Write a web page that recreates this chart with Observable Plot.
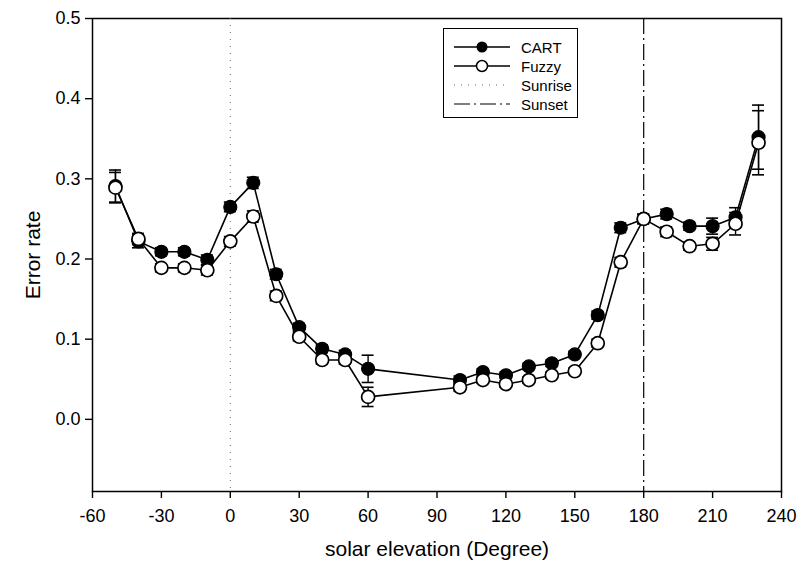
<!DOCTYPE html>
<html>
<head>
<meta charset="utf-8">
<script src="https://cdn.jsdelivr.net/npm/d3@7"></script>
<script src="https://cdn.jsdelivr.net/npm/@observablehq/plot@0.6"></script>
<style>
  html, body { margin: 0; padding: 0; background: #fff; }
  #wrap { position: relative; width: 798px; height: 569px; font-family: "Liberation Sans", Arial, sans-serif; }
  #legend { position: absolute; left: 443px; top: 28px; width: 135px; height: 90px; border: 1.3px solid #000; background: #fff; box-sizing: border-box; }
  #legend .row { position: absolute; left: 10px; height: 20px; display: flex; align-items: center; font-size: 15px; }
  #legend svg { margin-right: 9px; }
</style>
</head>
<body>
<div id="wrap"></div>
<script>
// ---- data ----
const xTicks = [-60, -30, 0, 30, 60, 90, 120, 150, 180, 210, 240];
const yTicks = [0.0, 0.1, 0.2, 0.3, 0.4, 0.5];
const elevation = [-50, -40, -30, -20, -10, 0, 10, 20, 30, 40, 50, 60, 100, 110, 120, 130, 140, 150, 160, 170, 180, 190, 200, 210, 220, 230];
const cart      = [0.291, 0.222, 0.209, 0.209, 0.199, 0.265, 0.295, 0.181, 0.115, 0.088, 0.081, 0.063, 0.049, 0.059, 0.055, 0.066, 0.070, 0.081, 0.130, 0.239, 0.250, 0.256, 0.241, 0.241, 0.252, 0.352];
const cartErr   = [0.020, 0.008, 0.005, 0.005, 0.006, 0.006, 0.007, 0.006, 0.005, 0.005, 0.005, 0.017, 0.005, 0.004, 0.004, 0.004, 0.004, 0.004, 0.005, 0.006, 0.006, 0.006, 0.005, 0.010, 0.012, 0.040];
const fuzzy     = [0.289, 0.225, 0.189, 0.189, 0.186, 0.222, 0.253, 0.154, 0.103, 0.074, 0.074, 0.028, 0.040, 0.049, 0.044, 0.049, 0.055, 0.060, 0.095, 0.196, 0.250, 0.234, 0.216, 0.219, 0.244, 0.345];
const fuzzyErr  = [0.019, 0.007, 0.005, 0.005, 0.006, 0.006, 0.007, 0.006, 0.005, 0.005, 0.005, 0.012, 0.005, 0.004, 0.004, 0.004, 0.004, 0.004, 0.005, 0.006, 0.006, 0.006, 0.005, 0.008, 0.014, 0.040];
const sunrise = [0];
const sunset = [180];
const seriesNames = ["CART", "Fuzzy", "Sunrise", "Sunset"];
const xLabel = "solar elevation (Degree)";
const yLabel = "Error rate";

const capHalf = 2.6; // half-width of error-bar caps in x units

function rows(vals, errs) {
  return elevation.map((x, i) => ({x, y: vals[i], lo: vals[i] - errs[i], hi: vals[i] + errs[i]}));
}
const cartData = rows(cart, cartErr);
const fuzzyData = rows(fuzzy, fuzzyErr);

function errMarks(data) {
  return [
    Plot.ruleX(data, {x: "x", y1: "lo", y2: "hi", stroke: "#000", strokeWidth: 1.4}),
    Plot.ruleY(data, {y: "hi", x1: d => d.x - capHalf, x2: d => d.x + capHalf, stroke: "#000", strokeWidth: 1.6}),
    Plot.ruleY(data, {y: "lo", x1: d => d.x - capHalf, x2: d => d.x + capHalf, stroke: "#000", strokeWidth: 1.6})
  ];
}

const chart = Plot.plot({
  width: 798,
  height: 569,
  marginLeft: 92,
  marginRight: 17,
  marginTop: 18,
  marginBottom: 78,
  style: {fontFamily: "'Liberation Sans', Arial, sans-serif", fontSize: "17px", color: "#000", background: "#fff"},
  x: {domain: [-60, 240]},
  y: {domain: [-0.09, 0.5]},
  marks: [
    Plot.frame({stroke: "#000", strokeWidth: 1.5}),
    Plot.ruleX(sunrise, {x: d => d, stroke: "#666", strokeWidth: 1, strokeDasharray: "1,6"}),
    Plot.ruleX(sunset, {x: d => d, stroke: "#000", strokeWidth: 1.2, strokeDasharray: "16,4,2,4"}),
    Plot.axisX({ticks: xTicks, tickSize: 7, tickPadding: 11, tickFormat: d => String(d), label: null, fontSize: 18, strokeWidth: 1.4}),
    Plot.axisY({ticks: yTicks, tickSize: 7, tickPadding: 5, tickFormat: d3.format(".1f"), label: null, fontSize: 18, strokeWidth: 1.4}),
    Plot.text([xLabel], {text: d => d, frameAnchor: "bottom", dy: 64, fontSize: 21}),
    Plot.text([yLabel], {text: d => d, frameAnchor: "left", textAnchor: "middle", dx: -59, rotate: -90, fontSize: 21}),
    ...errMarks(cartData),
    ...errMarks(fuzzyData),
    Plot.line(cartData, {x: "x", y: "y", stroke: "#000", strokeWidth: 1.6}),
    Plot.line(fuzzyData, {x: "x", y: "y", stroke: "#000", strokeWidth: 1.6}),
    Plot.dot(cartData, {x: "x", y: "y", r: 6.5, fill: "#000", stroke: "#000", strokeWidth: 1.2}),
    Plot.dot(fuzzyData, {x: "x", y: "y", r: 6.5, fill: "#fff", stroke: "#000", strokeWidth: 1.7})
  ]
});

const wrap = document.getElementById("wrap");
wrap.appendChild(chart);

// legend
const legend = document.createElement("div");
legend.id = "legend";
const samples = [
  `<line x1="0" y1="10" x2="56" y2="10" stroke="#000" stroke-width="1.5"/><circle cx="28" cy="10" r="5.5" fill="#000"/>`,
  `<line x1="0" y1="10" x2="56" y2="10" stroke="#000" stroke-width="1.5"/><circle cx="28" cy="10" r="5.5" fill="#fff" stroke="#000" stroke-width="1.5"/>`,
  `<line x1="0" y1="10" x2="56" y2="10" stroke="#666" stroke-width="1" stroke-dasharray="1,6"/>`,
  `<line x1="0" y1="10" x2="56" y2="10" stroke="#000" stroke-width="1.2" stroke-dasharray="16,4,2,4"/>`
];
seriesNames.forEach((name, i) => {
  const row = document.createElement("div");
  row.className = "row";
  row.style.top = (8 + i * 19) + "px";
  row.innerHTML = `<svg width="58" height="20">${samples[i]}</svg><span>${name}</span>`;
  legend.appendChild(row);
});
wrap.appendChild(legend);
</script>
</body>
</html>
